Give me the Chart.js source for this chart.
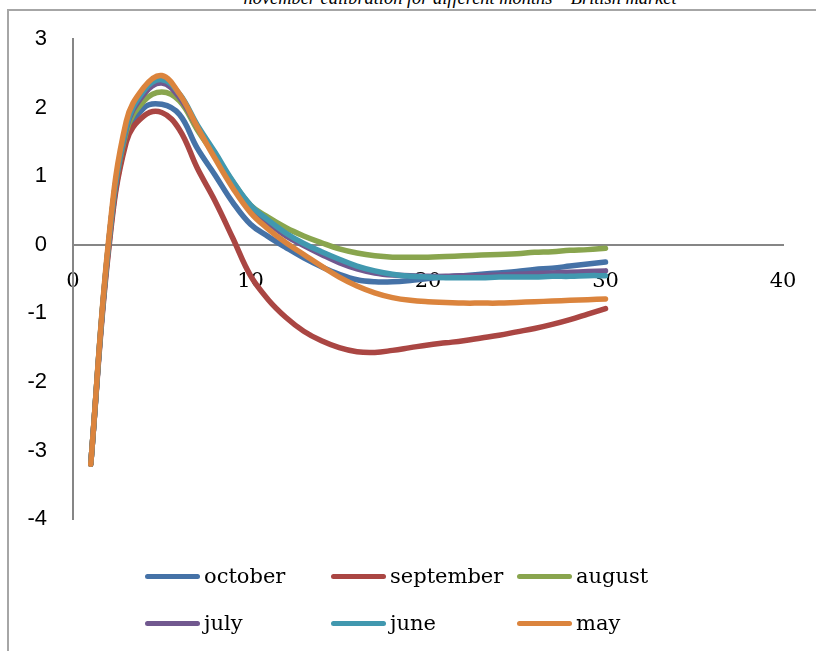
<!DOCTYPE html>
<html>
<head>
<meta charset="utf-8">
<script src="https://cdn.jsdelivr.net/npm/chart.js@4.4.1/dist/chart.umd.min.js"></script>
<style>
  body { margin: 0; width: 816px; height: 651px; overflow: hidden; background: #fff; position: relative; }
  #frame { position: absolute; left: 7px; top: 9px; width: 900px; height: 700px; border: 2px solid #a6a6a6; }
  #title { position: absolute; left: 52px; width: 816px; top: -12px; text-align: center;
           font: italic 18.4px "Liberation Serif", "DejaVu Serif", serif; color: #000; }
  #wrap { position: absolute; left: 0; top: 0; width: 816px; height: 651px; }
  #legend { position: absolute; left: 145px; top: 561px; width: 600px;
            font: 21px "DejaVu Serif", serif; color: #000; }
  .item { position: absolute; height: 30px; line-height: 30px; white-space: nowrap; }
  .swatch { display: inline-block; width: 55px; height: 5px; border-radius: 3px; vertical-align: middle; margin-right: 4px; position: relative; top: -1px; }
</style>
</head>
<body>
<div id="frame"></div>
<div id="title">november calibration for different months – British market</div>
<div id="wrap"><canvas id="resultChart" width="816" height="651"></canvas></div>
<div id="legend"></div>
<script>
// x values (periods)
var periods = [];
for (var i = 1; i <= 30; i++) periods.push(i);

var october   = [-3.2, -0.05, 1.55, 2.0, 2.05, 1.9, 1.41, 1.02, 0.62, 0.3, 0.12, -0.04, -0.19, -0.32, -0.43, -0.51, -0.54, -0.54, -0.52, -0.49, -0.47, -0.45, -0.43, -0.41, -0.39, -0.36, -0.34, -0.31, -0.28, -0.25];
var september = [-3.2, -0.1, 1.5, 1.88, 1.93, 1.68, 1.12, 0.64, 0.1, -0.45, -0.8, -1.06, -1.26, -1.4, -1.5, -1.56, -1.57, -1.54, -1.5, -1.46, -1.43, -1.4, -1.36, -1.32, -1.27, -1.22, -1.16, -1.09, -1.01, -0.93];
var august    = [-3.2, 0.0, 1.65, 2.1, 2.23, 2.1, 1.68, 1.3, 0.92, 0.58, 0.4, 0.25, 0.13, 0.03, -0.06, -0.12, -0.16, -0.18, -0.18, -0.18, -0.17, -0.16, -0.15, -0.14, -0.13, -0.11, -0.1, -0.08, -0.07, -0.05];
var july      = [-3.2, 0.0, 1.7, 2.2, 2.36, 2.15, 1.72, 1.3, 0.9, 0.55, 0.32, 0.13, -0.01, -0.14, -0.26, -0.35, -0.41, -0.44, -0.45, -0.46, -0.46, -0.45, -0.45, -0.44, -0.43, -0.42, -0.41, -0.4, -0.39, -0.38];
var june      = [-3.2, 0.0, 1.72, 2.25, 2.41, 2.2, 1.75, 1.35, 0.93, 0.58, 0.36, 0.17, 0.02, -0.1, -0.21, -0.31, -0.38, -0.43, -0.46, -0.47, -0.48, -0.48, -0.48, -0.47, -0.47, -0.47, -0.46, -0.46, -0.45, -0.45];
var may       = [-3.2, 0.05, 1.8, 2.3, 2.47, 2.2, 1.72, 1.26, 0.83, 0.47, 0.23, 0.03, -0.14, -0.31, -0.47, -0.6, -0.7, -0.77, -0.81, -0.83, -0.84, -0.85, -0.85, -0.85, -0.84, -0.83, -0.82, -0.81, -0.8, -0.79];

var seriesNames  = ["october", "september", "august", "july", "june", "may"];
var seriesValues = [october, september, august, july, june, may];
var seriesColors = ["#4572A7", "#AA4643", "#89A54E", "#71588F", "#4198AF", "#DB843D"];

var datasets = [];
seriesNames.forEach(function (name, idx) {
    datasets.push({
        label: name,
        data: seriesValues[idx].map(function (v, j) { return { x: periods[j], y: v }; }),
        borderColor: seriesColors[idx],
        backgroundColor: seriesColors[idx],
        borderWidth: 5.5,
        borderCapStyle: "round",
        borderJoinStyle: "round",
        pointRadius: 0,
        tension: 0.4,
        fill: false,
        order: seriesNames.length - idx // later series on top, like the original
    });
});

new Chart("resultChart", {
    type: "line",
    data: { datasets: datasets },
    options: {
        responsive: false,
        animation: false,
        layout: { padding: { top: 38, right: 33, bottom: 132, left: 0 } },
        plugins: { legend: { display: false }, tooltip: { enabled: false } },
        scales: {
            x: {
                type: "linear",
                position: { y: 0 },
                min: 0, max: 40,
                ticks: { stepSize: 10, padding: 24, color: "#000", font: { family: "DejaVu Serif", size: 21 } },
                grid: { display: false, drawTicks: false },
                border: { color: "#868686", width: 2 },
                afterFit: function (scale) { scale.paddingLeft = 0; scale.paddingRight = 0; }
            },
            y: {
                min: -4, max: 3,
                ticks: { stepSize: 1, padding: 26, color: "#000", font: { family: "Liberation Sans", size: 22 } },
                grid: { display: false, drawTicks: false },
                border: { color: "#868686", width: 2 },
                afterFit: function (scale) { scale.width = 73; }
            }
        }
    }
});

// legend in a 3-column grid
var legend = document.getElementById("legend");
seriesNames.forEach(function (name, idx) {
    var item = document.createElement("div");
    item.className = "item";
    item.style.left = (idx % 3) * 186 + "px";
    item.style.top = Math.floor(idx / 3) * 47 + "px";
    item.innerHTML = '<span class="swatch" style="background:' + seriesColors[idx] + '"></span>' + name;
    legend.appendChild(item);
});
</script>
</body>
</html>
